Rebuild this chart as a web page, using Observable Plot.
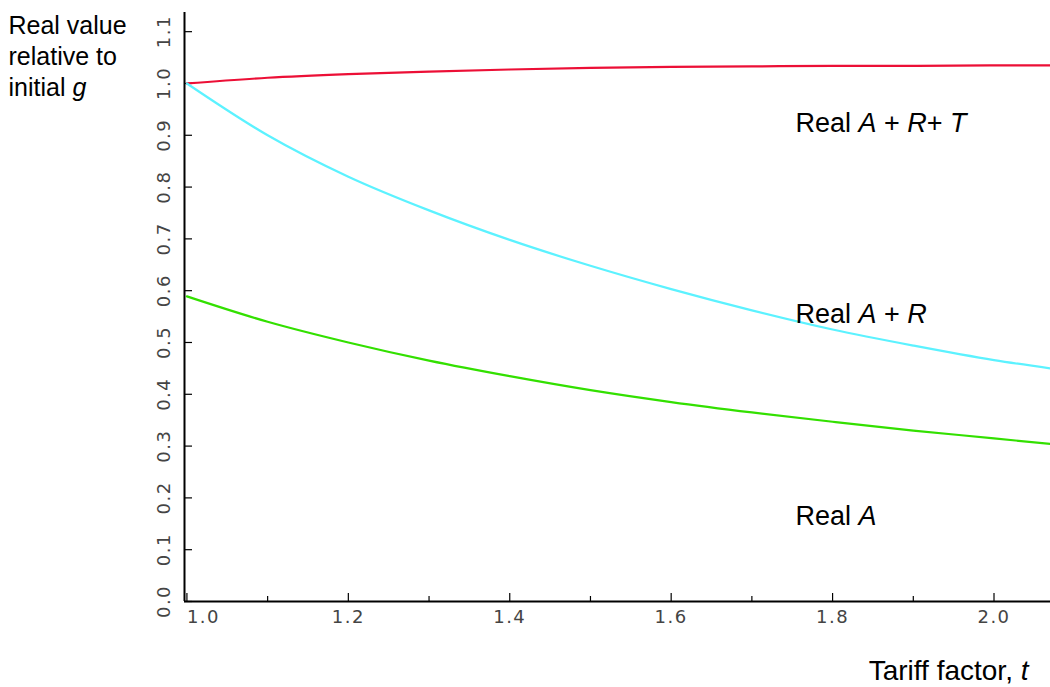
<!DOCTYPE html>
<html>
<head>
<meta charset="utf-8">
<script src="https://cdn.jsdelivr.net/npm/d3@7"></script>
<script src="https://cdn.jsdelivr.net/npm/@observablehq/plot@0.6"></script>
<style>
  html, body { margin: 0; padding: 0; background: #fff; }
  #chart svg { display: block; }
</style>
</head>
<body>
<div id="chart"></div>
<script>
// ---- data ----
const tariff   = [1.0, 1.1, 1.2, 1.3, 1.4, 1.5, 1.6, 1.7, 1.8, 1.9, 2.0, 2.07];
const realART  = [1.0, 1.011, 1.018, 1.023, 1.027, 1.030, 1.032, 1.033, 1.034, 1.034, 1.035, 1.035];
const realAR   = [1.0, 0.900, 0.820, 0.755, 0.698, 0.648, 0.603, 0.562, 0.525, 0.494, 0.466, 0.450];
const realA    = [0.589, 0.540, 0.500, 0.465, 0.435, 0.408, 0.385, 0.365, 0.347, 0.330, 0.315, 0.304];

const seriesNames  = ["Real A + R+ T", "Real A + R", "Real A"];
const seriesColors = ["#ec0f36", "#5cf2ff", "#33e000"];

const yTicks      = [0.0, 0.1, 0.2, 0.3, 0.4, 0.5, 0.6, 0.7, 0.8, 0.9, 1.0, 1.1];
const xMajorTicks = [1.0, 1.2, 1.4, 1.6, 1.8, 2.0];
const xMinorTicks = [1.1, 1.3, 1.5, 1.7, 1.9];

const labelText = ["Real *A* + *R*+ *T*", "Real *A* + *R*", "Real *A*"];
const labelX    = [1.754, 1.754, 1.754];
const labelY    = [0.907, 0.537, 0.147];

const yTitle = "Real value\nrelative to\ninitial *g*";
const xTitle = "Tariff factor, *t*";

// ---- build tables ----
const lines = [];
[realART, realAR, realA].forEach((vals, s) => {
  vals.forEach((v, i) => lines.push({series: seriesNames[s], t: tariff[i], v}));
});
const labels = labelText.map((text, i) => ({text, x: labelX[i], y: labelY[i]}));

const plot = Plot.plot({
  width: 1050,
  height: 687,
  marginLeft: 184,
  marginRight: 0,
  marginTop: 12,
  marginBottom: 86,
  style: {fontFamily: "Liberation Sans, Arial, sans-serif", background: "#fff"},
  x: {domain: [0.997, 2.07], axis: null},
  y: {domain: [0, 1.137], axis: null},
  color: {domain: seriesNames, range: seriesColors},
  marks: [
    // inward ticks
    Plot.axisY(yTicks, {anchor: "left", tickSize: 8, dx: 8, tickFormat: () => "", label: null, stroke: "#000", strokeWidth: 1.2}),
    Plot.axisX(xMajorTicks, {anchor: "bottom", tickSize: 8, dy: -8, tickFormat: () => "", label: null, stroke: "#000", strokeWidth: 1.2}),
    Plot.axisX(xMinorTicks, {anchor: "bottom", tickSize: 5, dy: -5, tickFormat: () => "", label: null, stroke: "#000", strokeWidth: 1.2}),
    // tick labels
    Plot.text(yTicks, {y: d => d, text: d => d.toFixed(1), frameAnchor: "left", dx: -20, rotate: -90, textAnchor: "middle", fill: "#444", fontSize: 18}),
    Plot.text(xMajorTicks.slice(0, 1), {x: d => d, text: d => d.toFixed(1), frameAnchor: "bottom", dy: 21, textAnchor: "start", fill: "#444", fontSize: 18}),
    Plot.text(xMajorTicks.slice(1), {x: d => d, text: d => d.toFixed(1), frameAnchor: "bottom", dy: 21, textAnchor: "middle", fill: "#444", fontSize: 18}),
    // curves
    Plot.line(lines, {x: "t", y: "v", z: "series", stroke: "series", strokeWidth: 2.2, curve: "monotone-x"}),
    // axis lines
    Plot.ruleY([0], {stroke: "#000", strokeWidth: 2}),
    Plot.ruleX([0.997], {stroke: "#000", strokeWidth: 2}),
    // curve labels
    Plot.text(labels, {x: "x", y: "y", text: "text", textAnchor: "start", lineAnchor: "bottom", fontSize: 27, fill: "#000"}),
    // axis titles
    Plot.text([yTitle], {frameAnchor: "top-left", dx: -176, dy: -1, textAnchor: "start", lineAnchor: "top", lineHeight: 1.24, fontSize: 25, fill: "#000"}),
    Plot.text([xTitle], {frameAnchor: "bottom-right", dx: -22, dy: 78, textAnchor: "end", lineAnchor: "bottom", fontSize: 28, fill: "#000"})
  ]
});

// tick label styling
d3.select(plot).selectAll("text").each(function () {
  if (/^\d\.\d$/.test(this.textContent)) {
    this.style.fontFamily = "DejaVu Sans";
    this.style.letterSpacing = "1.5px";
  }
});

// turn *x* markup into italic tspans
d3.select(plot).selectAll("text, tspan").each(function () {
  const el = this;
  if (el.children.length) return;
  const s = el.textContent;
  if (!s.includes("*")) return;
  el.textContent = "";
  s.split("*").forEach((part, i) => {
    if (!part) return;
    const t = document.createElementNS("http://www.w3.org/2000/svg", "tspan");
    if (i % 2) t.setAttribute("font-style", "italic");
    t.textContent = part;
    el.appendChild(t);
  });
});

document.getElementById("chart").appendChild(plot);
</script>
</body>
</html>
